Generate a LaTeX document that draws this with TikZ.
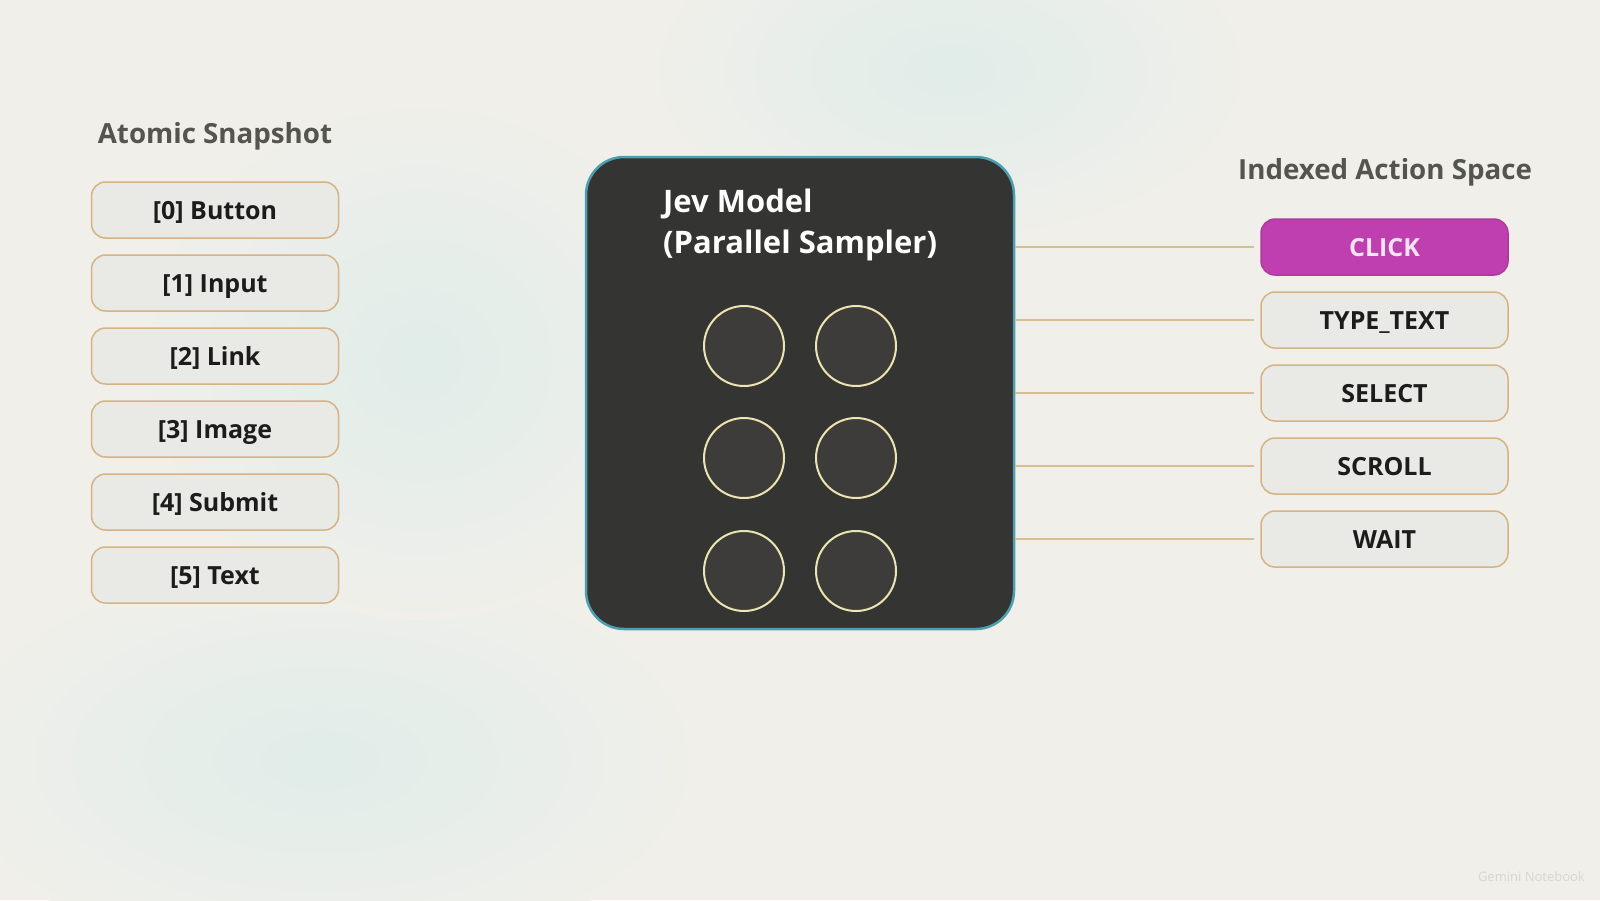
\documentclass[tikz,border=0pt]{standalone}
\usepackage{fontspec}
\setmainfont{Open Sans}
\usetikzlibrary{positioning}
\definecolor{bgbase}{HTML}{F0EFEA}
\definecolor{bgteal}{HTML}{E0EDE9}
\definecolor{titlegray}{HTML}{55554F}
\definecolor{boxfill}{HTML}{E9E9E6}
\definecolor{boxline}{HTML}{D6B385}
\definecolor{boxtext}{HTML}{1C1C1A}
\definecolor{connline}{HTML}{D9BD92}
\definecolor{modelfill}{HTML}{343432}
\definecolor{modelline}{HTML}{4B9FB0}
\definecolor{circfill}{HTML}{3D3C3A}
\definecolor{circline}{HTML}{ECE5B0}
\definecolor{clickfill}{HTML}{C03FB0}
\definecolor{clickline}{HTML}{B0389F}
\definecolor{clicktext}{HTML}{F7E4F2}
\definecolor{wmark}{HTML}{D6D6D2}
\tikzset{
  itembox/.style={draw=boxline, line width=1.5pt, fill=boxfill, rounded corners=14pt,
    minimum width=247pt, minimum height=56pt, inner sep=0pt, text height=18pt, text depth=0pt,
    text=boxtext, font=\fontsize{25}{30}\selectfont\bfseries},
  clickbox/.style={itembox, fill=clickfill, draw=clickline, text=clicktext},
  grouptitle/.style={text=titlegray, font=\fontsize{27.7}{33}\selectfont\bfseries, inner sep=0pt},
  modeltitle/.style={text=white, font=\fontsize{31}{37}\selectfont\bfseries, inner sep=0pt, anchor=base west},
  modelbox/.style={draw=modelline, line width=2.5pt, fill=modelfill, rounded corners=38pt,
    minimum width=428pt, minimum height=472pt, inner sep=0pt},
  unit/.style={circle, draw=circline, line width=2pt, fill=circfill, minimum size=80pt, inner sep=0pt},
  conn/.style={draw=connline, line width=1.6pt, shorten >=6pt},
  tint/.style={inner color=bgteal, outer color=bgbase}
}
\begin{document}
\begin{tikzpicture}[x=1pt, y=-1pt]
\useasboundingbox (0,0) rectangle (1600,900);
% background
\fill[bgbase] (0,0) rectangle (1600,900);
\begin{scope}
\clip (0,0) rectangle (1600,900);
\shade[tint] (950,70) ellipse (300 and 170);
\shade[tint] (320,760) ellipse (380 and 200);
\shade[tint] (420,360) ellipse (280 and 260);
\end{scope}

% titles
\node[grouptitle] (ttl) at (215,136) {Atomic Snapshot};
\node[grouptitle] (ttr) at (1385,172) {Indexed Action Space};

% left items
\node[itembox] (s0) at (215,210) {[0] Button};
\node[itembox] (s1) at (215,283) {[1] Input};
\node[itembox] (s2) at (215,356) {[2] Link};
\node[itembox] (s3) at (215,429) {[3] Image};
\node[itembox] (s4) at (215,502) {[4] Submit};
\node[itembox] (s5) at (215,575) {[5] Text};

% model
\node[modelbox] (model) at (800,393) {};
\node[modeltitle] (mt1) at (663,212) {Jev Model};
\node[modeltitle] (mt2) at (663,253) {(Parallel Sampler)};
\node[unit] (u1) at (744,346) {};
\node[unit] (u2) at (856,346) {};
\node[unit] (u3) at (744,458) {};
\node[unit] (u4) at (856,458) {};
\node[unit] (u5) at (744,571) {};
\node[unit] (u6) at (856,571) {};

% actions
\node[clickbox] (a0) at (1384.5,247) {CLICK};
\node[itembox] (a1) at (1384.5,320) {TYPE\_TEXT};
\node[itembox] (a2) at (1384.5,393) {SELECT};
\node[itembox] (a3) at (1384.5,466) {SCROLL};
\node[itembox] (a4) at (1384.5,539) {WAIT};

% connectors
\foreach \a in {a0,a1,a2,a3,a4}{
  \draw[conn] (model.east |- \a.west) -- (\a.west);
}

% watermark
\node[text=wmark, font=\fontsize{13}{15}\selectfont, anchor=east, inner sep=0pt] (wm) at (1585,877) {Gemini Notebook};
\end{tikzpicture}
\end{document}
